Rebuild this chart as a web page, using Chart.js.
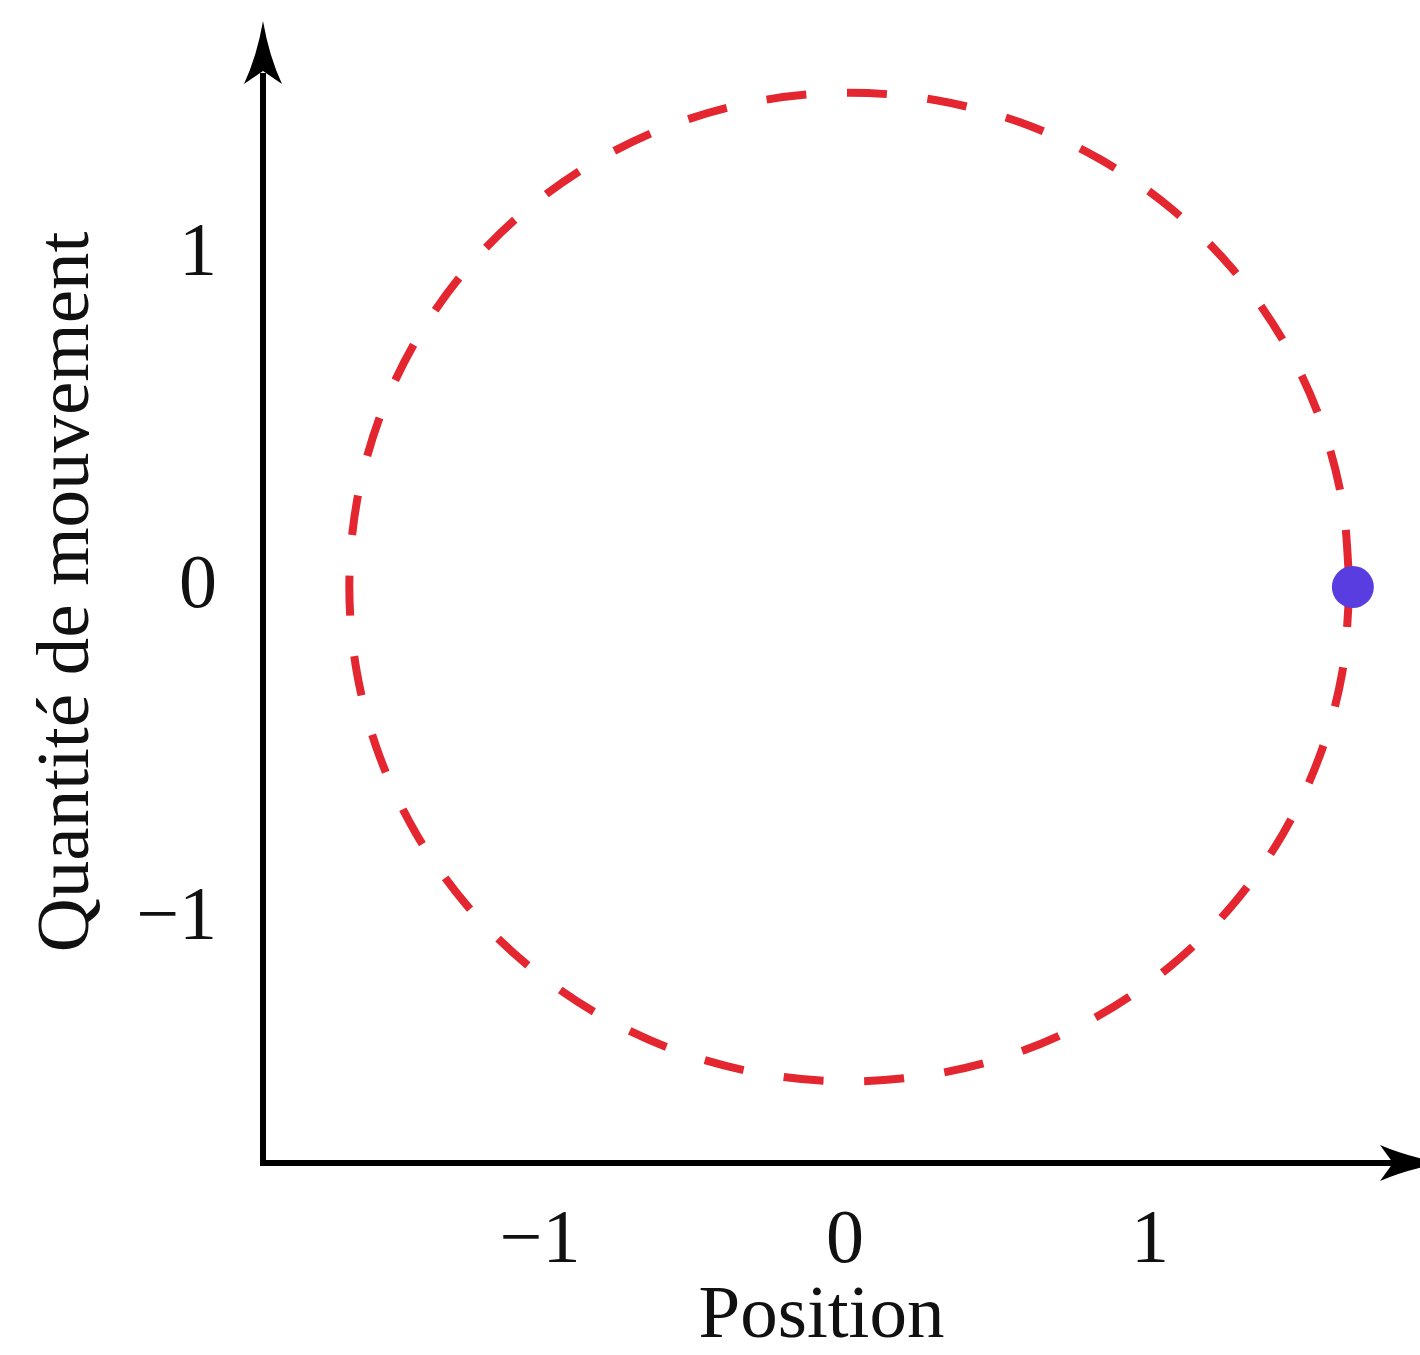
<!DOCTYPE html>
<html><head><meta charset="utf-8">
<script src="https://cdn.jsdelivr.net/npm/chart.js@4"></script>
<style>html,body{margin:0;padding:0;background:#fff}#wrap{width:1420px;height:1355px;position:relative}</style>
</head><body><div id="wrap"><canvas id="c"></canvas></div>
<script>
// Phase-space trajectory (position, momentum)
const circleX = [1.655, 1.630, 1.556, 1.435, 1.271, 1.069, 0.835, 0.576, 0.300, 0.015, -0.270, -0.546, -0.805, -1.039, -1.241, -1.405, -1.526, -1.600, -1.625, -1.600, -1.526, -1.405, -1.241, -1.039, -0.805, -0.546, -0.270, 0.015, 0.300, 0.576, 0.835, 1.069, 1.271, 1.435, 1.556, 1.630, 1.655];
const circleY = [0, -0.259, -0.510, -0.745, -0.958, -1.141, -1.290, -1.400, -1.467, -1.490, -1.467, -1.400, -1.290, -1.141, -0.958, -0.745, -0.510, -0.259, 0, 0.259, 0.510, 0.745, 0.958, 1.141, 1.290, 1.400, 1.467, 1.490, 1.467, 1.400, 1.290, 1.141, 0.958, 0.745, 0.510, 0.259, 0];
const dotX = [1.665];
const dotY = [0];
const xTickValues = [-1, 0, 1];
const xTickLabels = ['\u22121', '0', '1'];
const yTickValues = [-1, 0, 1];
const yTickLabels = ['\u22121', '0', '1'];
const xTitle = 'Position';
const yTitle = 'Quantité de mouvement';
const xRange = [-1.908, 1.754];
const yRange = [-1.736, 1.706];

const circlePoints = circleX.map((x, i) => ({x: x, y: circleY[i]}));
const dotPoints = dotX.map((x, i) => ({x: x, y: dotY[i]}));

const arrowAxes = {
  id: 'arrowAxes',
  beforeDatasetsDraw(chart) {
    const ctx = chart.ctx, a = chart.chartArea;
    const L = a.left, B = a.bottom, T = a.top, R = a.right;
    ctx.save();
    ctx.strokeStyle = '#000'; ctx.fillStyle = '#000'; ctx.lineWidth = 6; ctx.lineCap = 'butt';
    ctx.beginPath();
    ctx.moveTo(L, B + 3); ctx.lineTo(L, T + 52);
    ctx.moveTo(L - 3, B); ctx.lineTo(R + 15, B);
    ctx.stroke();
    ctx.beginPath();
    ctx.moveTo(L, T);
    ctx.quadraticCurveTo(L + 6, T + 35, L + 19, T + 63);
    ctx.lineTo(L, T + 50);
    ctx.lineTo(L - 19, T + 63);
    ctx.quadraticCurveTo(L - 6, T + 35, L, T);
    ctx.closePath(); ctx.fill();
    ctx.beginPath();
    ctx.moveTo(R + 63, B);
    ctx.quadraticCurveTo(R + 28, B - 6, R, B - 18);
    ctx.lineTo(R + 13, B);
    ctx.lineTo(R, B + 18);
    ctx.quadraticCurveTo(R + 28, B + 6, R + 63, B);
    ctx.closePath(); ctx.fill();
    ctx.restore();
  }
};

const serif = 'Liberation Serif';
new Chart(document.getElementById('c'), {
  type: 'scatter',
  data: { datasets: [
    { data: dotPoints, order: 0, pointRadius: 21, pointHoverRadius: 21, pointBackgroundColor: '#5a3de0', pointBorderWidth: 0, showLine: false },
    { data: circlePoints, order: 1, showLine: true, borderColor: '#e3262f', borderWidth: 8, borderDash: [40, 40.7], borderCapStyle: 'butt', tension: 0.33, pointRadius: 0, pointHoverRadius: 0, fill: false }
  ]},
  options: {
    responsive: true, maintainAspectRatio: false, animation: false,
    layout: { padding: { left: 0, top: 17, right: 40, bottom: 0 } },
    plugins: { legend: { display: false }, tooltip: { enabled: false } },
    events: [],
    scales: {
      x: {
        type: 'linear', min: xRange[0], max: xRange[1],
        grid: { display: false, drawTicks: false, tickLength: 0 }, border: { display: false },
        afterBuildTicks: s => { s.ticks = xTickValues.map(v => ({value: v})); },
        afterFit: s => { s.height = 192; s.paddingLeft = 0; s.paddingRight = 0; s.paddingTop = 0; s.paddingBottom = 0; },
        ticks: { padding: 41, autoSkip: false, maxRotation: 0, minRotation: 0, color: '#111',
          font: { family: serif, size: 76, lineHeight: 1 },
          callback: (v, i) => xTickLabels[i] },
        title: { display: true, text: xTitle, color: '#111', padding: { top: 0, bottom: 0 },
          font: { family: serif, size: 75, lineHeight: 1 } }
      },
      y: {
        type: 'linear', min: yRange[0], max: yRange[1],
        grid: { display: false, drawTicks: false, tickLength: 0 }, border: { display: false },
        afterBuildTicks: s => { s.ticks = yTickValues.map(v => ({value: v})); },
        afterFit: s => { s.width = 263; s.paddingLeft = 0; s.paddingRight = 0; s.paddingTop = 0; s.paddingBottom = 0; },
        ticks: { padding: 46, autoSkip: false, color: '#111',
          font: { family: serif, size: 76, lineHeight: 1 },
          callback: (v, i) => yTickLabels[i] },
        title: { display: true, text: yTitle, color: '#111', padding: { top: 31, bottom: 0 },
          font: { family: serif, size: 75, lineHeight: 1 } }
      }
    }
  },
  plugins: [arrowAxes]
});
</script>
</body></html>
